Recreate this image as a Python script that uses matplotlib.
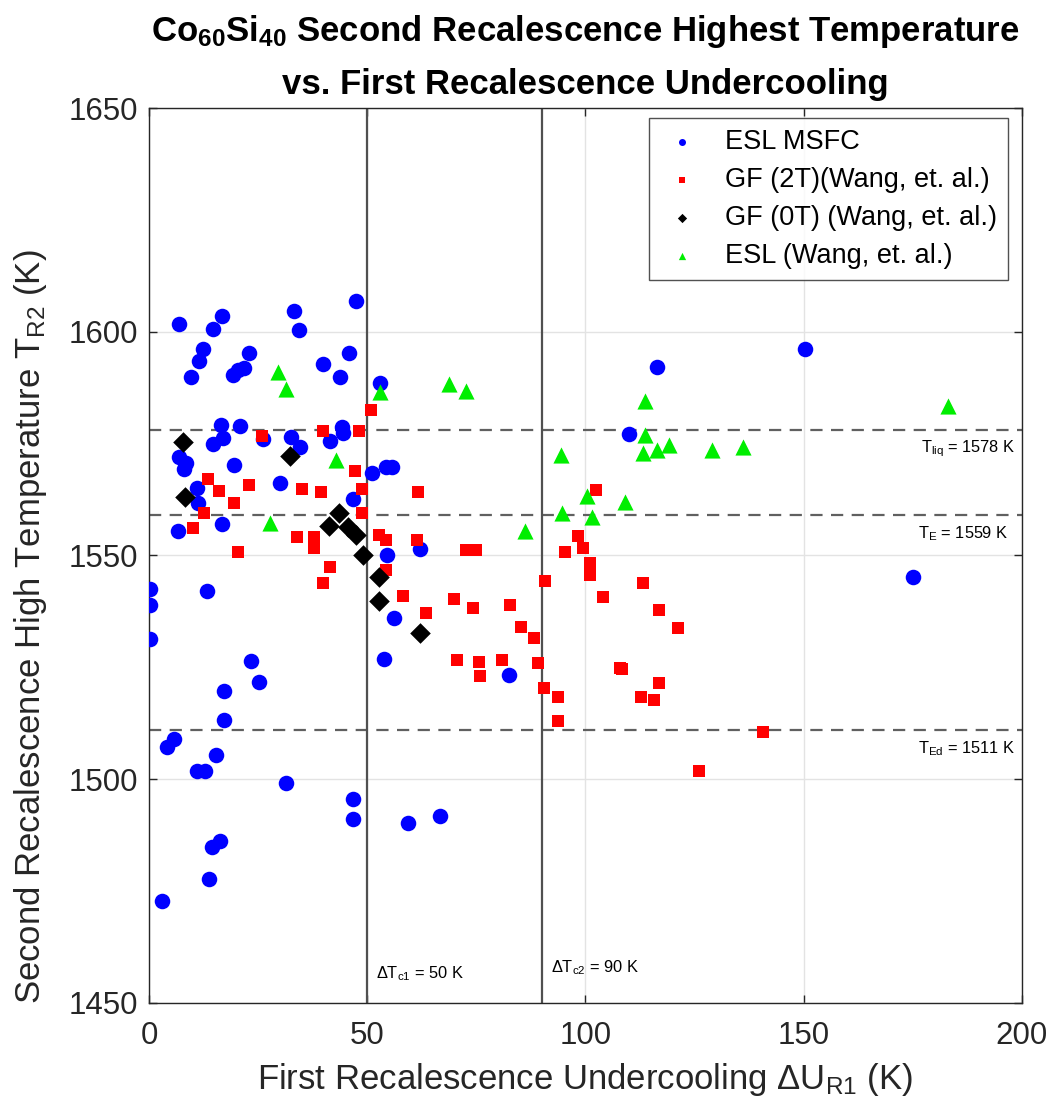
import matplotlib
matplotlib.use("Agg")
import matplotlib.pyplot as plt
import numpy as np

# ESL MSFC measurements: (undercooling dU_R1, second recalescence peak T_R2)
esl_msfc_x = [0.2, 0.2, 0.2, 3.0, 4.2, 5.8, 6.7, 6.9, 6.9, 8.0, 8.5, 9.6, 10.9, 11.1, 11.3,
              11.5, 12.4, 12.8, 13.2, 13.7, 14.5, 14.6, 14.7, 15.4, 16.2, 16.4, 16.7, 16.8,
              17.0, 17.3, 17.3, 19.2, 19.5, 20.4, 20.8, 21.7, 23.0, 23.3, 25.2, 26.2, 30.1,
              31.5, 32.6, 33.3, 34.3, 34.7, 39.9, 41.4, 43.7, 44.3, 44.5, 45.8, 46.8, 46.8,
              46.8, 47.4, 51.2, 52.9, 53.8, 54.4, 54.5, 55.7, 56.1, 59.4, 62.0, 66.6, 82.4,
              110.0, 116.3, 150.3, 175.1]
esl_msfc_y = [1542.5, 1538.9, 1531.3, 1472.7, 1507.2, 1508.9, 1555.4, 1601.7, 1572.1, 1569.3,
              1570.7, 1589.8, 1501.9, 1565.0, 1561.7, 1593.5, 1596.1, 1501.9, 1542.1, 1477.7,
              1484.8, 1600.7, 1574.9, 1505.4, 1486.3, 1579.2, 1603.5, 1557.0, 1576.2, 1519.8,
              1513.2, 1590.3, 1570.2, 1591.4, 1578.9, 1591.8, 1595.2, 1526.4, 1521.8, 1576.0,
              1566.1, 1499.1, 1576.5, 1604.6, 1600.4, 1574.2, 1592.8, 1575.6, 1589.8, 1578.8,
              1577.4, 1595.2, 1562.7, 1495.6, 1491.1, 1606.9, 1568.5, 1588.5, 1526.8, 1569.8,
              1550.0, 1569.8, 1536.0, 1490.3, 1551.4, 1491.8, 1523.3, 1577.2, 1592.2, 1596.2,
              1545.3]

# Gas-flow levitation, 2 T field (Wang et al.)
gf2t_x = [10.1, 12.7, 13.5, 16.0, 19.5, 20.5, 23.0, 26.0, 33.9, 35.0, 37.7, 37.8, 39.4, 39.9,
          39.9, 41.4, 47.1, 48.1, 48.9, 48.9, 50.9, 52.7, 54.2, 54.2, 58.1, 61.3, 61.6, 63.5,
          69.8, 70.5, 72.7, 74.2, 75.0, 75.7, 75.9, 80.9, 82.6, 85.3, 88.3, 89.2, 90.6, 90.8,
          93.6, 93.6, 95.4, 98.2, 99.5, 101.1, 101.1, 102.4, 104.0, 107.8, 108.4, 112.7, 113.2,
          115.6, 116.8, 116.8, 121.2, 126.1, 140.6]
gf2t_y = [1556.2, 1559.6, 1567.2, 1564.5, 1561.8, 1550.8, 1565.8, 1576.8, 1554.1, 1564.9,
          1551.7, 1554.1, 1564.3, 1577.9, 1543.9, 1547.4, 1568.9, 1577.9, 1564.9, 1559.4,
          1582.5, 1554.6, 1553.5, 1546.8, 1541.0, 1553.5, 1564.3, 1537.1, 1540.2, 1526.7,
          1551.2, 1538.3, 1551.2, 1526.1, 1523.1, 1526.7, 1538.9, 1534.1, 1531.5, 1525.9,
          1520.5, 1544.3, 1518.3, 1513.0, 1550.8, 1554.4, 1551.7, 1548.3, 1545.6, 1564.6,
          1540.7, 1524.9, 1524.6, 1518.3, 1543.9, 1517.6, 1537.8, 1521.6, 1533.7, 1501.9,
          1510.6]

# Gas-flow levitation, no field (Wang et al.)
gf0t_x = [7.9, 8.2, 32.3, 41.3, 43.5, 45.6, 47.4, 49.0, 52.6, 52.6, 62.2]
gf0t_y = [1575.3, 1563.1, 1572.3, 1556.7, 1559.4, 1556.4, 1554.6, 1550.2, 1545.3, 1539.8,
          1532.6]

# Electrostatic levitation (Wang et al.)
eslw_x = [27.7, 29.6, 31.5, 42.9, 52.9, 68.7, 72.7, 86.2, 94.4, 94.7, 100.3, 101.5, 109.1,
          113.1, 113.7, 113.7, 116.5, 119.1, 129.1, 136.2, 183.0]
eslw_y = [1557.3, 1591.1, 1587.1, 1571.3, 1586.6, 1588.3, 1586.8, 1555.5, 1572.5, 1559.4,
          1563.3, 1558.7, 1562.0, 1573.0, 1584.6, 1576.9, 1573.6, 1574.7, 1573.6, 1574.2,
          1583.4]

t_liq, t_e, t_ed = 1578, 1559, 1511
dt_c1, dt_c2 = 50, 90

font = "Liberation Sans"
plt.rcParams["font.family"] = [font, "DejaVu Sans"]
plt.rcParams["mathtext.fontset"] = "custom"
plt.rcParams["mathtext.rm"] = font
plt.rcParams["mathtext.it"] = font
plt.rcParams["mathtext.bf"] = font + ":bold"
plt.rcParams["mathtext.default"] = "rm"

fig = plt.figure(figsize=(10.55, 11.09), dpi=100)
ax = fig.add_axes([0.1412, 0.0956, 0.8275, 0.807])

ax.scatter(esl_msfc_x, esl_msfc_y, s=125, marker="o", color="#0000ff", linewidths=0,
           label="ESL MSFC", zorder=3)
ax.scatter(gf2t_x, gf2t_y, s=78, marker="s", color="#ff0000", linewidths=0,
           label="GF (2T)(Wang, et. al.)", zorder=3)
ax.scatter(gf0t_x, gf0t_y, s=110, marker="D", color="black", linewidths=0,
           label="GF (0T) (Wang, et. al.)", zorder=4)
ax.scatter(eslw_x, eslw_y, s=135, marker="^", color="#00ee00", linewidths=0,
           label="ESL (Wang, et. al.)", zorder=3)

# reference temperatures and critical undercoolings
for t in (t_liq, t_e, t_ed):
    ax.axhline(t, color="#606060", lw=1.6, ls=(0, (5.5, 3.8)), zorder=2)
for d in (dt_c1, dt_c2):
    ax.axvline(d, color="#505050", lw=1.6, zorder=2)

fs_small = 11.8
ax.text(198.5, 1576.2, r"T$_{\rm liq}$ = 1578 K", ha="right", va="top", fontsize=fs_small)
ax.text(196.8, 1557.0, r"T$_{\rm E}$ = 1559 K", ha="right", va="top", fontsize=fs_small)
ax.text(198.5, 1509.0, r"T$_{\rm Ed}$ = 1511 K", ha="right", va="top", fontsize=fs_small)
ax.text(52.0, 1456.5, r"$\Delta$T$_{\rm c1}$ = 50 K", ha="left", va="center", fontsize=fs_small)
ax.text(92.0, 1458.0, r"$\Delta$T$_{\rm c2}$ = 90 K", ha="left", va="center", fontsize=fs_small)

ax.set_xlim(0, 200)
ax.set_ylim(1450, 1650)
ax.set_xticks([0, 50, 100, 150, 200])
ax.set_yticks([1450, 1500, 1550, 1600, 1650])
ax.grid(True, color="#e3e3e3", lw=1.0, zorder=0)
ax.set_axisbelow(True)
ax.tick_params(direction="in", length=6, width=1, labelsize=22.5, colors="#262626",
               pad=8, top=True, right=True)
ax.tick_params(axis="x", pad=13)
for sp in ax.spines.values():
    sp.set_color("#262626")
    sp.set_linewidth(1.0)

ax.set_xlabel(r"First Recalescence Undercooling $\Delta$U$_{\rm R1}$ (K)",
              fontsize=25, color="#262626", labelpad=7)
ax.set_ylabel(r"Second Recalescence High Temperature T$_{\rm R2}$ (K)",
              fontsize=25, color="#262626")
ax.yaxis.set_label_coords(-0.114, 0.42)
ax.set_title(r"Co$_{\mathbf{60}}$Si$_{\mathbf{40}}$ Second Recalescence Highest Temperature"
             "\n" "vs. First Recalescence Undercooling",
             fontsize=25, fontweight="bold", linespacing=1.7, pad=10)

leg = ax.legend(loc="upper right", bbox_to_anchor=(0.984, 0.989), borderaxespad=0,
                fontsize=19.5, markerscale=0.45, frameon=True, fancybox=False,
                edgecolor="#262626", labelspacing=0.45, handletextpad=0.8, borderpad=0.4,
                handlelength=1.6)
leg.get_frame().set_linewidth(1.0)

fig.savefig("out.png", dpi=100)
